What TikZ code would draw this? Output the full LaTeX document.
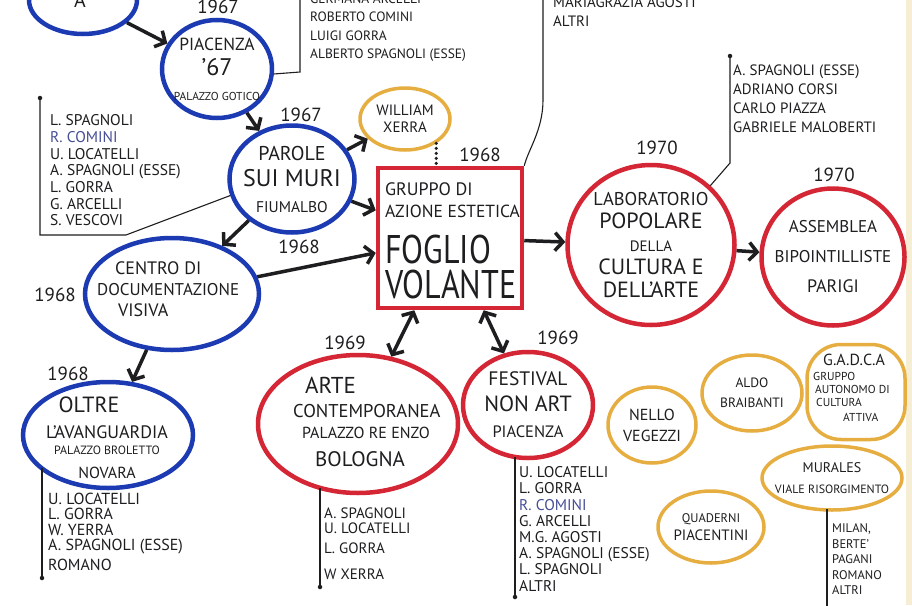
\documentclass[tikz,border=0pt]{standalone}
\usepackage{fontspec}
\setmainfont{PT Sans}
\newfontfamily\narrowfont[FakeStretch=0.8]{PT Sans}
\usetikzlibrary{arrows.meta,shapes.geometric}
\definecolor{ink}{RGB}{30,30,32}
\definecolor{blueink}{RGB}{28,58,178}
\definecolor{redink}{RGB}{212,38,52}
\definecolor{orangeink}{RGB}{230,174,64}
\definecolor{cominink}{RGB}{70,78,150}
\definecolor{paper}{RGB}{246,238,212}
\newcommand{\fs}[2]{{\fontsize{#1}{#1}\selectfont #2}}
\newcommand{\ind}[1]{\hspace*{#1pt}}
\begin{document}
\begin{tikzpicture}[x=1pt,y=-1pt,
  every node/.style={text=ink, inner sep=0pt},
  ring/.style={ellipse, inner sep=0pt},
  bluering/.style={ring, draw=blueink, line width=4.5pt},
  redring/.style={ring, draw=redink, line width=4.5pt},
  orangering/.style={ring, draw=orangeink, line width=3.5pt},
  ringtext/.style={align=center},
  lefttext/.style={align=left, anchor=north west},
  arr/.style={draw=ink, line width=3.5pt, -{Straight Barb[length=8pt,width=18pt]}},
  darr/.style={draw=ink, line width=3.5pt, {Straight Barb[length=8pt,width=18pt]}-{Straight Barb[length=8pt,width=18pt]}},
  yr/.style={font=\fontsize{19}{19}\selectfont},
  namelist/.style={anchor=north west, align=left},
  pen/.style={draw=ink, line width=1.1pt},
  pendot/.style={circle, fill=ink, minimum size=4.5pt, inner sep=0pt},
  dots/.style={draw=ink, line width=3.5pt, line cap=round, dash pattern=on 0pt off 5pt},
]
\useasboundingbox (0,0) rectangle (912,605);
\clip (0,0) rectangle (912,605);
\fill[white] (0,0) rectangle (912,605);
\fill[paper] (906,0) rectangle (912,605);

% ---------- blue nodes ----------
\node[bluering, minimum width=108, minimum height=68] (topa) at (83,0) {};
\node[ringtext, font=\fontsize{20}{20}\selectfont] (topa-t) at (80,0) {A};

\node[bluering, minimum width=110, minimum height=98] (piac) at (217,69) {};
\node[ringtext, font=\fontsize{17.5}{25}\selectfont] (piac-t) at (piac) {PIACENZA\\\fs{24}{’67}\\\fs{11.5}{PALAZZO GOTICO}};

\node[bluering, minimum width=125, minimum height=107] (parole) at (292,179) {};
\node[ringtext, font=\fontsize{20}{26}\selectfont] (parole-t) at (parole) {PAROLE\\\fs{24}{SUI MURI}\\\fs{15.5}{FIUMALBO}};

\node[bluering, minimum width=174, minimum height=112] (centro) at (172,294) {};
\node[lefttext, font=\fontsize{18}{21}\selectfont] (centro-t) at (97,261.5) {\ind{18}CENTRO DI\\\fs{17}{DOCUMENTAZIONE}\\\ind{21}VISIVA};

\node[bluering, minimum width=170, minimum height=106] (oltre) at (108,435) {};
\node[ringtext, font=\fontsize{18}{16}\selectfont] (oltre-t) at (107,438) {\fs{22}{OLTRE}\ind{36}\\[10pt]L’AVANGUARDIA\\\fs{12}{PALAZZO BROLETTO}\ind{-24}\\[7.5pt]\fs{16}{NOVARA}};

% ---------- orange nodes ----------
\node[orangering, minimum width=90, minimum height=62] (xerra) at (405,119) {};
\node[ringtext, font=\fontsize{15}{17}\selectfont] (xerra-t) at (xerra) {WILLIAM\\XERRA};

\node[orangering, minimum width=88, minimum height=76] (nello) at (652,425) {};
\node[ringtext, font=\fontsize{16}{21}\selectfont] (nello-t) at (nello) {NELLO\\VEGEZZI};

\node[orangering, minimum width=100, minimum height=76] (aldo) at (752,393) {};
\node[ringtext, font=\fontsize{13.5}{20}\selectfont] (aldo-t) at (aldo) {ALDO\\BRAIBANTI};

\node[draw=orangeink, line width=3.5pt, rounded corners=34pt, minimum width=98, minimum height=95] (gadca) at (856,392) {};
\node[lefttext, font=\fontsize{11.5}{13}\selectfont] (gadca-t) at (813,354) {\ind{10}\fs{16}{G.A.D.C.A}\\[2pt]GRUPPO\\\ind{2}AUTONOMO DI\\\ind{3}CULTURA\\[2pt]\ind{30}ATTIVA};

\node[orangering, minimum width=140, minimum height=64] (mural) at (832,478) {};
\node[ringtext, font=\fontsize{14}{21}\selectfont] (mural-t) at (mural) {MURALES\\\fs{12}{VIALE RISORGIMENTO}};

\node[orangering, minimum width=106, minimum height=72] (quad) at (711,527) {};
\node[ringtext, font=\fontsize{12.5}{18}\selectfont] (quad-t) at (quad) {QUADERNI\\\fs{15}{PIACENTINI}};

% ---------- red nodes ----------
\node[draw=redink, line width=4.5pt, minimum width=144, minimum height=140] (box) at (450,238) {};
\node[lefttext, font=\fontsize{17.5}{22}\selectfont] (box-t) at (385,182) {\fs{18}{GRUPPO DI}\\AZIONE ESTETICA\\[17pt]{\narrowfont\fs{40}{FOGLIO}}\\[5pt]{\narrowfont\fs{40}{VOLANTE}}};

\node[redring, minimum width=200, minimum height=138] (arte) at (358,424) {};
\node[lefttext, font=\fontsize{18.5}{21}\selectfont] (arte-t) at (293,377) {\ind{12}\fs{23}{ARTE}\\[2.5pt]CONTEMPORANEA\\\ind{9}\fs{16}{PALAZZO RE ENZO}\\[7pt]\ind{22}\fs{21}{BOLOGNA}};

\node[redring, minimum width=130, minimum height=106] (fest) at (528,405) {};
\node[ringtext, font=\fontsize{19.5}{26}\selectfont] (fest-t) at (fest) {FESTIVAL\\\fs{22}{NON ART}\\\fs{16.5}{PIACENZA}};

\node[redring, minimum width=167, minimum height=160] (lab) at (651,245) {};
\node[ringtext, font=\fontsize{18.5}{23}\selectfont] (lab-t) at (lab) {LABORATORIO\\\fs{22}{POPOLARE}\\\fs{15}{DELLA}\\\fs{22}{CULTURA E}\\\fs{22}{DELL’ARTE}};

\node[redring, minimum width=143, minimum height=137] (assem) at (833,257) {};
\node[ringtext, font=\fontsize{17}{30}\selectfont] (assem-t) at (assem) {ASSEMBLEA\\BIPOINTILLISTE\\\fs{18}{PARIGI}};

% ---------- years ----------
\node[yr] (y1) at (218,7) {1967};
\node[yr] (y2) at (301,115) {1967};
\node[yr] (y3) at (299,247) {1968};
\node[yr] (y4) at (480,155) {1968};
\node[yr] (y5) at (55,295) {1968};
\node[yr] (y6) at (68,374) {1968};
\node[yr] (y7) at (345,343) {1969};
\node[yr] (y8) at (558,338) {1969};
\node[yr] (y9) at (657,148) {1970};
\node[yr] (y10) at (834,175) {1970};

% ---------- name lists ----------
\node[namelist, font=\fontsize{13.5}{18.5}\selectfont] (l-top) at (310,-6.5) {GERMANA ARCELLI\\ROBERTO COMINI\\LUIGI GORRA\\ALBERTO SPAGNOLI (ESSE)};
\node[namelist, font=\fontsize{15}{19}\selectfont] (l-mid) at (553,-3) {MARIAGRAZIA AGOSTI\\ALTRI};
\node[namelist, font=\fontsize{15.5}{16.7}\selectfont] (l-left) at (50,114.5) {L. SPAGNOLI\\\textcolor{cominink}{R. COMINI}\\U. LOCATELLI\\A. SPAGNOLI (ESSE)\\L. GORRA\\G. ARCELLI\\S. VESCOVI};
\node[namelist, font=\fontsize{15}{19}\selectfont] (l-lab) at (733,64.5) {A. SPAGNOLI (ESSE)\\ADRIANO CORSI\\CARLO PIAZZA\\GABRIELE MALOBERTI};
\node[namelist, font=\fontsize{16}{15.5}\selectfont] (l-oltre) at (48,492.5) {U. LOCATELLI\\L. GORRA\\W. YERRA\\A. SPAGNOLI (ESSE)\\[4pt]ROMANO};
\node[namelist, font=\fontsize{15}{15}\selectfont] (l-arte) at (324,508) {A. SPAGNOLI\\U. LOCATELLI\\[5pt]L. GORRA\\[11pt]W XERRA};
\node[namelist, font=\fontsize{15.5}{16.2}\selectfont] (l-fest) at (519,466.5) {U. LOCATELLI\\L. GORRA\\\textcolor{cominink}{R. COMINI}\\G. ARCELLI\\M.G. AGOSTI\\A. SPAGNOLI (ESSE)\\L. SPAGNOLI\\ALTRI};
\node[namelist, font=\fontsize{12.5}{15.5}\selectfont] (l-mur) at (832,523.5) {MILAN,\\BERTE’\\PAGANI\\ROMANO\\ALTRI};

% ---------- pen brackets ----------
\coordinate (tl-top) at (300,-2);
\coordinate (tl-bend) at (300,72);
\draw[pen] (tl-top) -- (tl-bend) -- (piac.-5);

\coordinate (tm-top) at (543,-2);
\coordinate (tm-mid) at (543,100);
\draw[pen] (tm-top) -- (tm-mid) .. controls (543,130) and (528,150) .. (box.north east);

\coordinate (ll-top) at (40,98);
\coordinate (ll-corner) at (40,235);
\coordinate (ll-kink) at (126,235);
\draw[pen] (ll-top) -- (ll-corner) -- (ll-kink) -- (parole.195);
\node[pendot] (ll-dot) at (ll-top) {};

\coordinate (lb-top) at (730,56);
\coordinate (lb-bend) at (730,163);
\draw[pen] (lb-top) -- (lb-bend) -- (lab.45);
\node[pendot] (lb-dot) at (lb-top) {};

\coordinate (ol-top) at (42,468);
\coordinate (ol-bot) at (42,578);
\draw[pen] (ol-top) -- (ol-bot);
\node[pendot] (ol-dot) at (ol-bot) {};

\coordinate (ar-top) at (320,488);
\coordinate (ar-bot) at (320,587);
\draw[pen] (ar-top) -- (ar-bot);
\node[pendot] (ar-dot) at (ar-bot) {};

\coordinate (fe-top) at (515,457);
\coordinate (fe-bot) at (515,597);
\draw[pen] (fe-top) -- (fe-bot);
\node[pendot] (fe-dot) at (fe-bot) {};

\coordinate (mu-top) at (827,509);
\coordinate (mu-bot) at (827,610);
\draw[pen] (mu-top) -- (mu-bot);

% ---------- connectors ----------
\draw[dots] (xerra.-38) -- (xerra.-38 |- box.north);
\draw[arr] (topa) -- (piac);
\draw[arr] (piac) -- (parole);
\draw[arr] (parole) -- (xerra);
\draw[arr] (parole) -- (box);
\draw[arr] (parole) -- (centro);
\draw[arr] (centro) -- (box);
\draw[arr] (centro) -- (oltre);
\draw[darr] (box) -- (arte);
\draw[darr] (box) -- (fest);
\draw[arr] (box) -- (lab);
\draw[arr] (lab) -- (assem);
\end{tikzpicture}
\end{document}
